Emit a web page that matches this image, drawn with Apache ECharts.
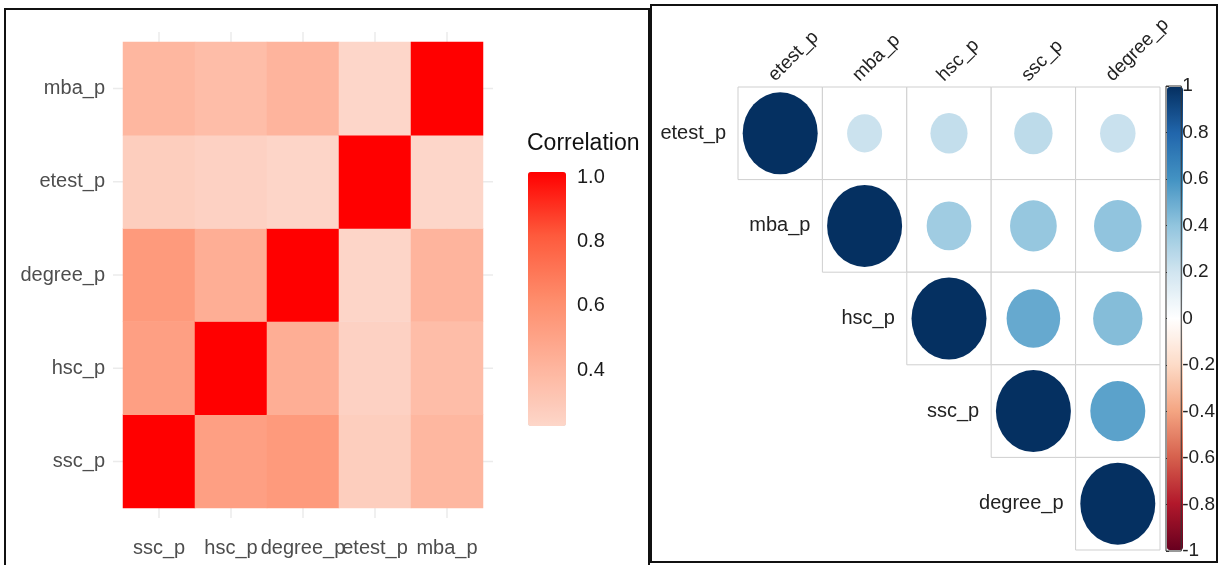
<!DOCTYPE html>
<html>
<head>
<meta charset="utf-8">
<script src="https://cdn.jsdelivr.net/npm/echarts@6/dist/echarts.min.js"></script>
<style>
  html, body { margin: 0; padding: 0; background: #fff; }
  #chart { width: 1218px; height: 565px; }
</style>
</head>
<body>
<div id="chart"></div>
<script>
// variables and correlation matrix (placement data)
const vars = ['ssc_p', 'hsc_p', 'degree_p', 'etest_p', 'mba_p']
const corr = [
  [1.000, 0.511, 0.538, 0.262, 0.388],
  [0.511, 1.000, 0.434, 0.245, 0.355],
  [0.538, 0.434, 1.000, 0.224, 0.402],
  [0.262, 0.245, 0.224, 1.000, 0.218],
  [0.388, 0.355, 0.402, 0.218, 1.000]
]
// order used by the corrplot on the right
const corrOrder = ['etest_p', 'mba_p', 'hsc_p', 'ssc_p', 'degree_p']
const redTicks = [0.4, 0.6, 0.8, 1.0]
const rdbu = ['#67001F', '#B2182B', '#D6604D', '#F4A582', '#FDDBC7', '#FFFFFF',
  '#D1E5F0', '#92C5DE', '#4393C3', '#2166AC', '#053061']

const chart = echarts.init(document.getElementById('chart'))

// heatmap cells
const heatData = []
vars.forEach((a, i) => {
  vars.forEach((b, j) => {
    heatData.push([i, j, corr[i][j]])
  })
})

// upper triangle cells of corrplot
const triData = []
corrOrder.forEach((rowName, r) => {
  corrOrder.forEach((colName, c) => {
    if (c >= r) {
      const v = corr[vars.indexOf(rowName)][vars.indexOf(colName)]
      triData.push([c, r, v])
    }
  })
})

const sans = "'Liberation Sans', Arial, sans-serif"

const option = {
  animation: false,
  grid: [
    { left: 123, top: 42, width: 360, height: 466 },
    { left: 528, top: 172, width: 38, height: 254 },
    { left: 738, top: 87, width: 422, height: 463 },
    { left: 1166, top: 86, width: 18, height: 465, show: true, borderColor: '#333', borderWidth: 1, backgroundColor: 'transparent', z: 10 }
  ],
  xAxis: [
    {
      gridIndex: 0, type: 'category', data: vars,
      axisLine: { show: false }, axisTick: { show: false },
      axisLabel: { color: '#4d4d4d', fontSize: 20, fontFamily: sans, margin: 30, interval: 0, hideOverlap: false }
    },
    { gridIndex: 1, type: 'value', show: false },
    {
      gridIndex: 2, type: 'category', data: corrOrder, position: 'top', show: false
    },
    { gridIndex: 3, type: 'value', show: false }
  ],
  yAxis: [
    {
      gridIndex: 0, type: 'category', data: vars,
      axisLine: { show: false }, axisTick: { show: false },
      axisLabel: { color: '#4d4d4d', fontSize: 20, fontFamily: sans, margin: 18, interval: 0 }
    },
    {
      gridIndex: 1, type: 'value', min: 0.226, max: 1.0155, position: 'left',
      axisLine: { show: false }, splitLine: { show: false },
      axisLabel: { show: false },
      axisTick: { inside: true, length: 8, lineStyle: { color: '#fff', width: 1 }, customValues: redTicks }
    },
    {
      gridIndex: 1, type: 'value', min: 0.226, max: 1.0155, position: 'right',
      axisLine: { show: false }, splitLine: { show: false },
      axisTick: { inside: true, length: 8, lineStyle: { color: '#fff', width: 1 }, customValues: redTicks },
      axisLabel: { color: '#1a1a1a', fontSize: 20, fontFamily: sans, margin: 11, customValues: redTicks,
        formatter: v => v.toFixed(1) }
    },
    {
      gridIndex: 2, type: 'category', data: corrOrder, inverse: true, show: false
    },
    {
      gridIndex: 3, type: 'value', min: -1, max: 1, interval: 0.2, position: 'right',
      axisLine: { show: false }, splitLine: { show: false },
      axisTick: { length: 3, lineStyle: { color: '#333' } },
      axisLabel: { color: '#222', fontSize: 19, fontFamily: sans, margin: 1,
        formatter: v => String(+v.toFixed(1)) }
    }
  ],
  visualMap: [
    {
      type: 'continuous', seriesIndex: 1, dimension: 2,
      min: 0.218, max: 1.0, calculable: false,
      left: 528, top: 172, itemWidth: 38, itemHeight: 254, padding: 0,
      text: ['', ''], showLabel: false,
      inRange: { color: ['#fdd6c9', '#feb29a', '#fe8c6b', '#fe5a3c', '#ff0000'] }
    },
    {
      type: 'continuous', seriesIndex: 3, dimension: 2,
      min: -1, max: 1, calculable: false,
      left: 1167, top: 87, itemWidth: 16, itemHeight: 463, padding: 0,
      text: ['', ''], showLabel: false,
      inRange: { color: rdbu }
    }
  ],
  graphic: [
    { type: 'rect', shape: { x: 5, y: 9, width: 644, height: 620 }, style: { fill: 'none', stroke: '#111', lineWidth: 2 } },
    { type: 'rect', shape: { x: 651, y: 5, width: 566, height: 557 }, style: { fill: 'none', stroke: '#111', lineWidth: 2 } },
    { type: 'text', left: 527, top: 132, style: { text: 'Correlation', fontSize: 23, fontFamily: sans, fill: '#111' } }
  ],
  series: [
    {
      // faint panel grid lines behind the tiles
      type: 'custom', xAxisIndex: 0, yAxisIndex: 0, z: 1, silent: true,
      data: vars.map((v, i) => [i, i]),
      renderItem: (params, api) => {
        const cs = params.coordSys
        const p = api.coord([api.value(0), api.value(1)])
        const st = { stroke: '#ebebeb', lineWidth: 1.5 }
        return {
          type: 'group',
          children: [
            { type: 'line', shape: { x1: p[0], y1: cs.y - 10, x2: p[0], y2: cs.y + cs.height + 10 }, style: st },
            { type: 'line', shape: { x1: cs.x - 10, y1: p[1], x2: cs.x + cs.width + 10, y2: p[1] }, style: st }
          ]
        }
      }
    },
    {
      type: 'heatmap', xAxisIndex: 0, yAxisIndex: 0, z: 2,
      data: heatData,
      emphasis: { disabled: true }
    },
    {
      // cell borders of corrplot
      type: 'custom', xAxisIndex: 2, yAxisIndex: 3, z: 1, silent: true,
      data: triData,
      renderItem: (params, api) => {
        const p = api.coord([api.value(0), api.value(1)])
        const s = api.size([1, 1])
        return {
          type: 'rect',
          shape: { x: p[0] - s[0] / 2, y: p[1] - s[1] / 2, width: s[0], height: s[1] },
          style: { fill: '#fff', stroke: '#cfcfcf', lineWidth: 1 }
        }
      }
    },
    {
      type: 'scatter', xAxisIndex: 2, yAxisIndex: 3, z: 3,
      data: triData,
      symbol: 'circle',
      symbolSize: val => {
        const k = Math.sqrt(Math.abs(val[2]))
        return [75 * k, 82 * k]
      },
      itemStyle: { opacity: 1 },
      emphasis: { disabled: true }
    },
    {
      // row labels along the diagonal and rotated column labels on top
      type: 'custom', xAxisIndex: 2, yAxisIndex: 3, z: 4, silent: true,
      data: corrOrder.map((v, i) => [i, i]),
      renderItem: (params, api) => {
        const i = api.value(0)
        const p = api.coord([i, i])
        const s = api.size([1, 1])
        const cs = params.coordSys
        return {
          type: 'group',
          children: [
            {
              type: 'text',
              x: p[0] - s[0] / 2 - 12,
              y: p[1],
              style: {
                text: corrOrder[i], fontSize: 20, fontFamily: sans, fill: '#222',
                align: 'right', verticalAlign: 'middle'
              }
            },
            {
              type: 'text',
              x: p[0] - 2,
              y: cs.y - 2,
              rotation: Math.PI / 4,
              style: {
                text: corrOrder[i], fontSize: 19, fontFamily: sans, fill: '#222',
                align: 'left', verticalAlign: 'bottom'
              }
            }
          ]
        }
      }
    }
  ]
}

chart.setOption(option)
</script>
</body>
</html>
